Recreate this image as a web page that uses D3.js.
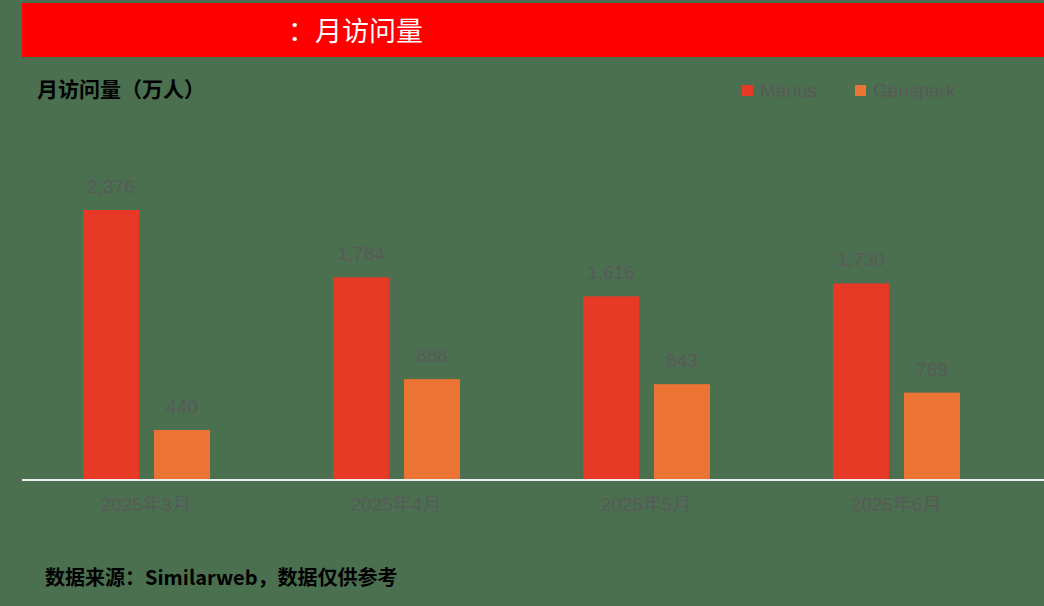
<!DOCTYPE html>
<html><head><meta charset="utf-8">
<script src="https://cdn.jsdelivr.net/npm/d3@7"></script>
<style>body{margin:0;background:#4a7050;}</style></head>
<body><svg id="c" width="1044" height="606"></svg>
<script>
const months = ["2025年3月","2025年4月","2025年5月","2025年6月"];
const series = ["Manus","Genspark"];
const manus = [2376,1784,1616,1730];
const genspark = [440,888,843,769];
const colors = ["#e63a27","#eb7333"];
const font = "'Liberation Sans','Noto Sans CJK SC',sans-serif";
const cjk = "'Noto Sans CJK SC',sans-serif";
const svg = d3.select("#c");
svg.append("rect").attr("width",1044).attr("height",606).attr("fill","#4a7050");
svg.append("rect").attr("x",22).attr("y",3).attr("width",1022).attr("height",54).attr("fill","#ff0000");
svg.append("text").attr("x",296).attr("y",41).attr("fill","#fff").attr("font-size",27).attr("font-family",cjk).text("：月访问量").attr("dx",-8);
svg.append("text").attr("x",37).attr("y",97).attr("fill","#000").attr("font-size",21).attr("font-weight","bold").attr("font-family",cjk).text("月访问量（万人）");
const x = d3.scaleBand().domain(months).range([21,1021]);
const xs = d3.scaleBand().domain(series).range([62,189]).paddingInner(0.21);
const y = d3.scaleLinear().domain([0,2376]).range([480,210]);
const data = [manus,genspark];
series.forEach((s,si)=>{
  const g = svg.append("g");
  g.selectAll("rect").data(months).join("rect")
   .attr("x",m=>x(m)+xs(s)).attr("width",xs.bandwidth())
   .attr("y",(m,i)=>y(data[si][i])).attr("height",(m,i)=>480-y(data[si][i])).attr("fill",colors[si]);
  g.selectAll("text").data(months).join("text")
   .attr("x",m=>x(m)+xs(s)+xs.bandwidth()/2).attr("y",(m,i)=>y(data[si][i])-17)
   .attr("text-anchor","middle").attr("fill","#595959").attr("font-size",19).attr("font-family",font)
   .text((m,i)=>d3.format(",")(data[si][i]));
});
const ax = svg.append("g").attr("transform","translate(0,480)")
  .call(d3.axisBottom(x).tickSize(0).tickPadding(14));
ax.select(".domain").attr("stroke","#eeeeee").attr("stroke-width",2).attr("d","M22,0H1044");
ax.selectAll("text").attr("fill","#595959").attr("font-size",19).attr("font-family",font).attr("dy","0.9em");
const lg = svg.append("g");
series.forEach((s,i)=>{
  const lx = [742,855][i];
  lg.append("rect").attr("x",lx).attr("y",85).attr("width",11).attr("height",11).attr("fill",colors[i]);
  lg.append("text").attr("x",lx+18).attr("y",97).attr("fill","#595959").attr("font-size",19).attr("font-family",font).text(s);
});
svg.append("text").attr("x",45).attr("y",585).attr("fill","#000").attr("font-size",20).attr("font-weight","bold").attr("font-family",cjk).text("数据来源：Similarweb，数据仅供参考");
</script></body></html>
